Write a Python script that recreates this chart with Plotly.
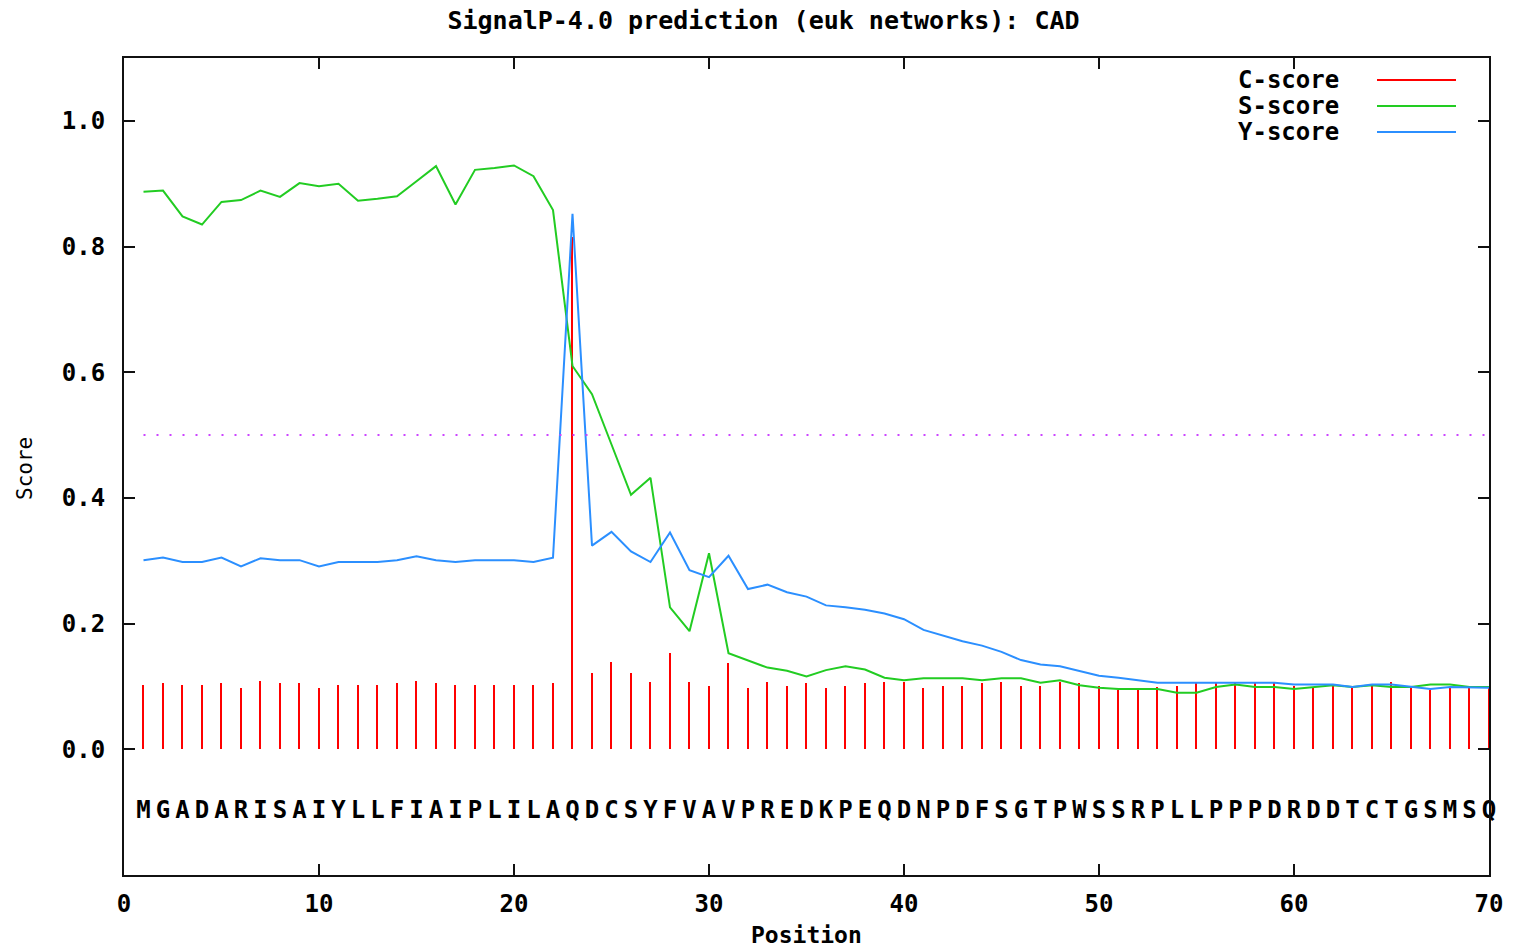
import plotly.graph_objects as go

# ---------------- data ----------------
sequence = "MGADARISAIYLLFIAIPLILAQDCSYFVAVPREDKPEQDNPDFSGTPWSSRPLLPPPDRDDTCTGSMSQ"
positions = list(range(1, 71))

c_score = [0.102, 0.105, 0.102, 0.102, 0.105, 0.098, 0.108, 0.105, 0.105, 0.098,
           0.102, 0.102, 0.102, 0.105, 0.108, 0.105, 0.102, 0.102, 0.102, 0.102,
           0.102, 0.105, 0.815, 0.121, 0.139, 0.121, 0.107, 0.153, 0.107, 0.101,
           0.137, 0.098, 0.107, 0.101, 0.105, 0.098, 0.101, 0.105, 0.107, 0.107,
           0.098, 0.101, 0.101, 0.105, 0.107, 0.101, 0.101, 0.107, 0.106, 0.101,
           0.095, 0.095, 0.099, 0.101, 0.106, 0.106, 0.105, 0.105, 0.106, 0.100,
           0.099, 0.102, 0.098, 0.102, 0.107, 0.098, 0.095, 0.099, 0.099, 0.099]

s_score = [0.887, 0.889, 0.848, 0.835, 0.871, 0.874, 0.889, 0.879, 0.901, 0.896,
           0.900, 0.873, 0.876, 0.880, 0.904, 0.928, 0.867, 0.922, 0.925, 0.929,
           0.912, 0.858, 0.610, 0.565, 0.485, 0.405, 0.432, 0.226, 0.188, 0.312,
           0.153, 0.142, 0.130, 0.125, 0.116, 0.126, 0.132, 0.127, 0.114, 0.110,
           0.113, 0.113, 0.113, 0.110, 0.113, 0.113, 0.106, 0.110, 0.102, 0.098,
           0.096, 0.096, 0.096, 0.090, 0.090, 0.099, 0.103, 0.099, 0.099, 0.096,
           0.099, 0.102, 0.099, 0.102, 0.099, 0.099, 0.103, 0.103, 0.099, 0.099]

y_score = [0.301, 0.305, 0.298, 0.298, 0.305, 0.291, 0.304, 0.301, 0.301, 0.291,
           0.298, 0.298, 0.298, 0.301, 0.307, 0.301, 0.298, 0.301, 0.301, 0.301,
           0.298, 0.305, 0.852, 0.324, 0.346, 0.315, 0.298, 0.345, 0.285, 0.274,
           0.308, 0.255, 0.262, 0.250, 0.243, 0.229, 0.226, 0.222, 0.216, 0.207,
           0.190, 0.181, 0.172, 0.165, 0.155, 0.142, 0.135, 0.132, 0.124, 0.117,
           0.114, 0.110, 0.106, 0.106, 0.106, 0.106, 0.106, 0.106, 0.106, 0.103,
           0.103, 0.103, 0.099, 0.103, 0.103, 0.099, 0.096, 0.099, 0.099, 0.098]

cutoff_x = [1, 70]
cutoff_y = [0.5, 0.5]
seq_y = -0.1

x_ticks = [0, 10, 20, 30, 40, 50, 60, 70]
y_ticks = [0.0, 0.2, 0.4, 0.6, 0.8, 1.0]

title_text = "SignalP-4.0 prediction (euk networks): CAD"
legend_names = ["C-score", "S-score", "Y-score"]

# ---------------- style ----------------
RED = "#ff0000"
GREEN = "#22cc22"
BLUE = "#2b8fff"
MAGENTA = "#cc44ff"
FONT = "DejaVu Sans Mono"

W, H = 1527, 952
L, R, T, B = 124, 1489, 58, 875  # plot-area pixel box


def px_x(px):
    return (px - L) / (R - L)


def px_y(py):
    return (B - py) / (B - T)


fig = go.Figure()

fig.add_trace(go.Scatter(x=positions, y=s_score, mode="lines",
                         line=dict(color=GREEN, width=2),
                         name=legend_names[1], showlegend=False))
fig.add_trace(go.Scatter(x=positions, y=y_score, mode="lines",
                         line=dict(color=BLUE, width=2),
                         name=legend_names[2], showlegend=False))
fig.add_trace(go.Bar(x=positions, y=c_score, width=0.1,
                     marker=dict(color=RED, line=dict(width=0)),
                     name=legend_names[0], showlegend=False))
fig.add_trace(go.Scatter(x=cutoff_x, y=cutoff_y, mode="lines",
                         line=dict(color=MAGENTA, width=2, dash="2px,11px"),
                         showlegend=False))
fig.add_trace(go.Scatter(x=positions, y=[seq_y] * len(positions), mode="text",
                         text=list(sequence), cliponaxis=False,
                         textfont=dict(family=FONT, size=24, color="black", weight="bold"),
                         textposition="middle center", showlegend=False))

# manual gnuplot-style key
legend_rows_y = [80, 106, 132]
legend_colors = [RED, GREEN, BLUE]
annotations = []
shapes = []
for name, col, ry in zip(legend_names, legend_colors, legend_rows_y):
    annotations.append(dict(x=px_x(1341), y=px_y(ry), xref="paper", yref="paper",
                            text=name, showarrow=False, xanchor="right", yanchor="middle",
                            font=dict(family=FONT, size=24, color="black", weight="bold")))
    shapes.append(dict(type="line", xref="paper", yref="paper",
                       x0=px_x(1377), x1=px_x(1456), y0=px_y(ry), y1=px_y(ry),
                       line=dict(color=col, width=2)))

annotations.append(dict(x=0.5, y=px_y(935), xref="paper", yref="paper",
                        text="Position", showarrow=False, xanchor="center", yanchor="middle",
                        font=dict(family=FONT, size=23, color="black", weight="bold")))
annotations.append(dict(x=px_x(25), y=px_y(468), xref="paper", yref="paper",
                        text="Score", showarrow=False, textangle=-90,
                        xanchor="center", yanchor="middle",
                        font=dict(family=FONT, size=21, color="black")))

fig.update_layout(
    width=W, height=H,
    margin=dict(l=L, r=W - R, t=T, b=H - B, pad=0),
    paper_bgcolor="white", plot_bgcolor="white",
    title=dict(text=title_text, x=0.5, xanchor="center",
               y=1 - 20 / H, yref="container", yanchor="middle",
               font=dict(family=FONT, size=25, color="black", weight="bold")),
    annotations=annotations,
    shapes=shapes,
    showlegend=False,
    bargap=0,
)

fig.update_xaxes(range=[0, 70], tickvals=x_ticks, ticktext=[str(v) for v in x_ticks],
                 showgrid=False, zeroline=False,
                 showline=True, linecolor="#111111", linewidth=2, mirror="ticks",
                 ticks="inside", ticklen=11, tickwidth=2, tickcolor="#111111",
                 ticklabelstandoff=6,
                 tickfont=dict(family=FONT, size=24, color="black", weight="bold"))
fig.update_yaxes(range=[-0.2, 1.1], tickvals=y_ticks, ticktext=[f"{v:.1f}" for v in y_ticks],
                 showgrid=False, zeroline=False,
                 showline=True, linecolor="#111111", linewidth=2, mirror="ticks",
                 ticks="inside", ticklen=11, tickwidth=2, tickcolor="#111111",
                 ticklabelstandoff=12,
                 tickfont=dict(family=FONT, size=24, color="black", weight="bold"))

fig.write_html("out.html")
